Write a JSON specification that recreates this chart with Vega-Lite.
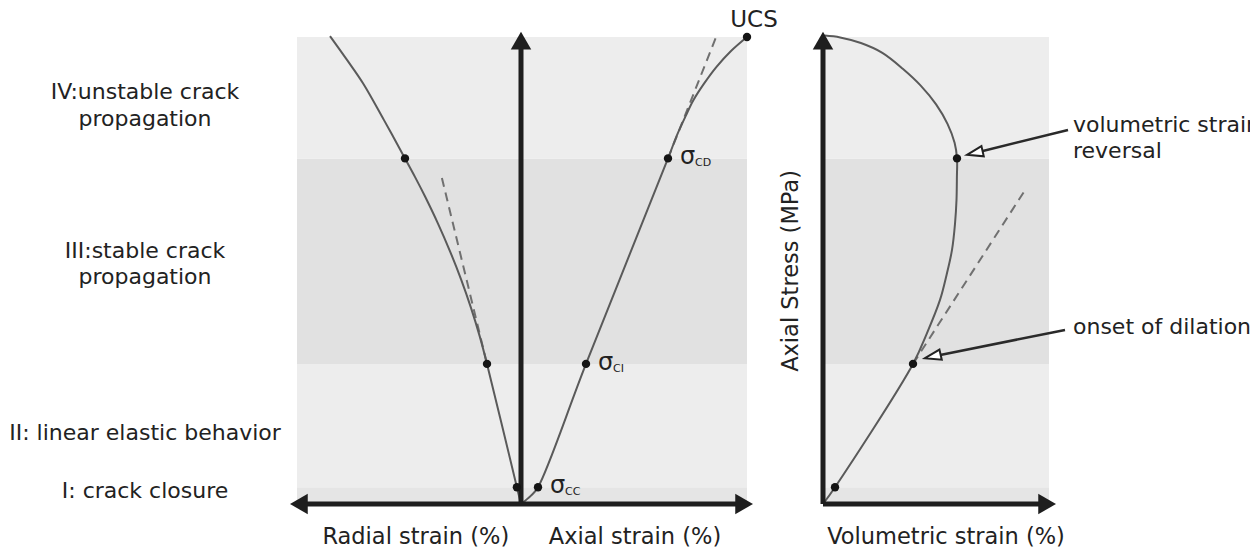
{
  "$schema": "https://vega.github.io/schema/vega-lite/v6.json",
  "padding": 0,
  "background": "white",
  "bounds": "flush",
  "spacing": 7,
  "config": {
    "view": {"stroke": null},
    "font": "DejaVu Sans",
    "text": {"font": "DejaVu Sans", "fontSize": 22, "fill": "#222222"}
  },
  "datasets": {
    "bands": [
      {"stage": "I", "stress": 0, "stress2": 3.6, "label": "I: crack closure", "labelAt": 1.28},
      {"stage": "II", "stress": 3.6, "stress2": 30, "label": "II: linear elastic behavior", "labelAt": 13.7},
      {"stage": "III", "stress": 30, "stress2": 74, "label": "III:stable crack\npropagation", "labelAt": 52.7},
      {"stage": "IV", "stress": 74, "stress2": 100, "label": "IV:unstable crack\npropagation", "labelAt": 86.7}
    ],
    "strainCurves": [
      {"curve": "radial", "i": 0, "strain": 0, "stress": 0},
      {"curve": "radial", "i": 1, "strain": -0.0082, "stress": 3.6},
      {"curve": "radial", "i": 2, "strain": -0.068, "stress": 30},
      {"curve": "radial", "i": 3, "strain": -0.0828, "stress": 36},
      {"curve": "radial", "i": 4, "strain": -0.1, "stress": 42},
      {"curve": "radial", "i": 5, "strain": -0.1195, "stress": 48},
      {"curve": "radial", "i": 6, "strain": -0.1415, "stress": 54},
      {"curve": "radial", "i": 7, "strain": -0.1658, "stress": 60},
      {"curve": "radial", "i": 8, "strain": -0.1926, "stress": 66},
      {"curve": "radial", "i": 9, "strain": -0.2118, "stress": 70},
      {"curve": "radial", "i": 10, "strain": -0.232, "stress": 74},
      {"curve": "radial", "i": 11, "strain": -0.274, "stress": 82.2},
      {"curve": "radial", "i": 12, "strain": -0.316, "stress": 90.1},
      {"curve": "radial", "i": 13, "strain": -0.348, "stress": 95.1},
      {"curve": "radial", "i": 14, "strain": -0.382, "stress": 100.2},
      {"curve": "axial", "i": 0, "strain": 0, "stress": 0},
      {"curve": "axial", "i": 1, "strain": 0.02, "stress": 1.8},
      {"curve": "axial", "i": 2, "strain": 0.034, "stress": 3.6},
      {"curve": "axial", "i": 3, "strain": 0.13, "stress": 30},
      {"curve": "axial", "i": 4, "strain": 0.294, "stress": 74},
      {"curve": "axial", "i": 5, "strain": 0.312, "stress": 79},
      {"curve": "axial", "i": 6, "strain": 0.329, "stress": 83},
      {"curve": "axial", "i": 7, "strain": 0.345, "stress": 86.5},
      {"curve": "axial", "i": 8, "strain": 0.366, "stress": 90},
      {"curve": "axial", "i": 9, "strain": 0.391, "stress": 93.6},
      {"curve": "axial", "i": 10, "strain": 0.42, "stress": 97},
      {"curve": "axial", "i": 11, "strain": 0.452, "stress": 100}
    ],
    "strainTangents": [
      {"curve": "radial", "strain": -0.068, "stress": 30},
      {"curve": "radial", "strain": -0.1582, "stress": 69.8},
      {"curve": "axial", "strain": 0.294, "stress": 74},
      {"curve": "axial", "strain": 0.391, "stress": 100.2}
    ],
    "strainArrows": [
      {"strain": 0, "stress": 0, "strain2": 0, "stress2": 99.2, "dir": "up"},
      {"strain": 0, "stress": 0, "strain2": -0.4442, "stress2": 0, "dir": "left"},
      {"strain": 0, "stress": 0, "strain2": 0.4462, "stress2": 0, "dir": "right"}
    ],
    "strainDots": [
      {"curve": "radial", "strain": -0.0082, "stress": 3.6},
      {"curve": "radial", "strain": -0.068, "stress": 30},
      {"curve": "radial", "strain": -0.232, "stress": 74},
      {"curve": "axial", "strain": 0.034, "stress": 3.6},
      {"curve": "axial", "strain": 0.13, "stress": 30},
      {"curve": "axial", "strain": 0.294, "stress": 74},
      {"curve": "axial", "strain": 0.452, "stress": 100}
    ],
    "thresholds": [
      {"sub": "CC", "strain": 0.034, "stress": 3.6},
      {"sub": "CI", "strain": 0.13, "stress": 30},
      {"sub": "CD", "strain": 0.294, "stress": 74}
    ],
    "ucs": [{"label": "UCS", "strain": 0.452, "stress": 100}],
    "strainTitles": [
      {"label": "Radial strain (%)", "strain": -0.2104, "stress": -8.6},
      {"label": "Axial strain (%)", "strain": 0.228, "stress": -8.6}
    ],
    "volCurve": [
      {"i": 0, "strain": 0, "stress": 0},
      {"i": 1, "strain": 0.024, "stress": 3.6},
      {"i": 2, "strain": 0.18, "stress": 30},
      {"i": 3, "strain": 0.208, "stress": 36.6},
      {"i": 4, "strain": 0.234, "stress": 43.7},
      {"i": 5, "strain": 0.247, "stress": 49},
      {"i": 6, "strain": 0.258, "stress": 54.4},
      {"i": 7, "strain": 0.264, "stress": 60},
      {"i": 8, "strain": 0.267, "stress": 65.1},
      {"i": 9, "strain": 0.2678, "stress": 70},
      {"i": 10, "strain": 0.268, "stress": 74},
      {"i": 11, "strain": 0.2632, "stress": 77.34},
      {"i": 12, "strain": 0.249, "stress": 81.39},
      {"i": 13, "strain": 0.2262, "stress": 85.57},
      {"i": 14, "strain": 0.1959, "stress": 89.54},
      {"i": 15, "strain": 0.1595, "stress": 93.2},
      {"i": 16, "strain": 0.1187, "stress": 96.6},
      {"i": 17, "strain": 0.0758, "stress": 98.7},
      {"i": 18, "strain": 0.0343, "stress": 99.9},
      {"i": 19, "strain": 0.003, "stress": 100.3}
    ],
    "volTangent": [
      {"strain": 0.18, "stress": 30},
      {"strain": 0.404, "stress": 67.2}
    ],
    "volArrows": [
      {"strain": 0, "stress": 0, "strain2": 0, "stress2": 99.2, "dir": "up"},
      {"strain": 0, "stress": 0, "strain2": 0.4482, "stress2": 0, "dir": "right"}
    ],
    "volDots": [
      {"strain": 0.024, "stress": 3.6},
      {"strain": 0.18, "stress": 30},
      {"strain": 0.268, "stress": 74}
    ],
    "callouts": [
      {"label": "volumetric strain\nreversal", "strain": 0.5, "stress": 79.7, "lineStrain": 0.49, "lineStress": 80.1, "headStrain": 0.3036, "headStress": 75.16},
      {"label": "onset of dilation", "strain": 0.5, "stress": 36.4, "lineStrain": 0.484, "lineStress": 37.26, "headStrain": 0.2196, "headStress": 31.6}
    ],
    "volTitles": [{"label": "Volumetric strain (%)", "strain": 0.246, "stress": -8.6}],
    "stressTitle": [{"label": "Axial Stress (MPa)", "strain": -0.05, "stress": 49.9}]
  },
  "hconcat": [
    {
      "width": 290,
      "height": 553,
      "data": {"name": "bands"},
      "mark": {"type": "text", "align": "center", "baseline": "alphabetic", "lineBreak": "\n", "lineHeight": 26.5},
      "encoding": {
        "x": {"datum": 0.5, "type": "quantitative", "scale": {"domain": [0, 1], "nice": false, "zero": false}, "axis": null},
        "y": {"field": "labelAt", "type": "quantitative", "scale": {"domain": [-10.49, 107.92], "nice": false, "zero": false}, "axis": null},
        "text": {"field": "label"}
      }
    },
    {
      "spacing": 76,
      "bounds": "flush",
      "hconcat": [
        {
          "width": 450,
          "height": 553,
          "layer": [
            {
              "data": {"name": "bands"},
              "mark": {"type": "rect"},
              "encoding": {
                "x": {"datum": -0.448, "type": "quantitative", "scale": {"domain": [-0.448, 0.452], "nice": false, "zero": false}, "axis": null},
                "x2": {"datum": 0.452},
                "y": {"field": "stress", "type": "quantitative", "scale": {"domain": [-10.49, 107.92], "nice": false, "zero": false}, "axis": null},
                "y2": {"field": "stress2"},
                "color": {"field": "stage", "type": "nominal", "scale": {"domain": ["I", "II", "III", "IV"], "range": ["#e5e5e5", "#ededed", "#e1e1e1", "#ededed"]}, "legend": null}
              }
            },
            {
              "data": {"name": "strainTangents"},
              "mark": {"type": "line", "stroke": "#707070", "strokeWidth": 2, "strokeDash": [9, 6]},
              "encoding": {
                "x": {"field": "strain", "type": "quantitative"},
                "y": {"field": "stress", "type": "quantitative"},
                "detail": {"field": "curve"}
              }
            },
            {
              "data": {"name": "strainCurves"},
              "mark": {"type": "line", "interpolate": "catmull-rom", "stroke": "#5a5a5a", "strokeWidth": 2},
              "encoding": {
                "x": {"field": "strain", "type": "quantitative"},
                "y": {"field": "stress", "type": "quantitative"},
                "detail": {"field": "curve"},
                "order": {"field": "i", "type": "quantitative"}
              }
            },
            {
              "data": {"name": "strainArrows"},
              "mark": {"type": "rule", "stroke": "#1e1e1e", "strokeWidth": 5, "strokeCap": "butt"},
              "encoding": {
                "x": {"field": "strain", "type": "quantitative"},
                "y": {"field": "stress", "type": "quantitative"},
                "x2": {"field": "strain2"},
                "y2": {"field": "stress2"}
              }
            },
            {
              "data": {"name": "strainArrows"},
              "mark": {"type": "point", "filled": true, "size": 420, "color": "#1e1e1e", "opacity": 1},
              "encoding": {
                "x": {"field": "strain2", "type": "quantitative"},
                "y": {"field": "stress2", "type": "quantitative"},
                "shape": {"field": "dir", "type": "nominal", "scale": {"domain": ["up", "left", "right"], "range": ["triangle-up", "triangle-left", "triangle-right"]}, "legend": null}
              }
            },
            {
              "data": {"name": "strainDots"},
              "mark": {"type": "point", "filled": true, "size": 70, "color": "#151515", "opacity": 1},
              "encoding": {
                "x": {"field": "strain", "type": "quantitative"},
                "y": {"field": "stress", "type": "quantitative"}
              }
            },
            {
              "data": {"name": "thresholds"},
              "mark": {"type": "text", "text": "σ", "fontSize": 24, "align": "left", "baseline": "alphabetic", "dx": 12, "dy": 6},
              "encoding": {
                "x": {"field": "strain", "type": "quantitative"},
                "y": {"field": "stress", "type": "quantitative"}
              }
            },
            {
              "data": {"name": "thresholds"},
              "mark": {"type": "text", "fontSize": 11, "align": "left", "baseline": "alphabetic", "dx": 27, "dy": 8},
              "encoding": {
                "x": {"field": "strain", "type": "quantitative"},
                "y": {"field": "stress", "type": "quantitative"},
                "text": {"field": "sub"}
              }
            },
            {
              "data": {"name": "ucs"},
              "mark": {"type": "text", "fontSize": 23, "align": "center", "baseline": "alphabetic", "dx": 7, "dy": -10},
              "encoding": {
                "x": {"field": "strain", "type": "quantitative"},
                "y": {"field": "stress", "type": "quantitative"},
                "text": {"field": "label"}
              }
            },
            {
              "data": {"name": "strainTitles"},
              "mark": {"type": "text", "fontSize": 22.5, "align": "center", "baseline": "alphabetic"},
              "encoding": {
                "x": {"field": "strain", "type": "quantitative"},
                "y": {"field": "stress", "type": "quantitative"},
                "text": {"field": "label"}
              }
            }
          ]
        },
        {
          "width": 226,
          "height": 553,
          "layer": [
            {
              "data": {"name": "bands"},
              "mark": {"type": "rect"},
              "encoding": {
                "x": {"datum": 0, "type": "quantitative", "scale": {"domain": [0, 0.452], "nice": false, "zero": false}, "axis": null},
                "x2": {"datum": 0.452},
                "y": {"field": "stress", "type": "quantitative", "scale": {"domain": [-10.49, 107.92], "nice": false, "zero": false}, "axis": null},
                "y2": {"field": "stress2"},
                "color": {"field": "stage", "type": "nominal", "scale": {"domain": ["I", "II", "III", "IV"], "range": ["#e5e5e5", "#ededed", "#e1e1e1", "#ededed"]}, "legend": null}
              }
            },
            {
              "data": {"name": "volTangent"},
              "mark": {"type": "line", "stroke": "#707070", "strokeWidth": 2, "strokeDash": [9, 6]},
              "encoding": {
                "x": {"field": "strain", "type": "quantitative"},
                "y": {"field": "stress", "type": "quantitative"}
              }
            },
            {
              "data": {"name": "volCurve"},
              "mark": {"type": "line", "interpolate": "catmull-rom", "stroke": "#5a5a5a", "strokeWidth": 2},
              "encoding": {
                "x": {"field": "strain", "type": "quantitative"},
                "y": {"field": "stress", "type": "quantitative"},
                "order": {"field": "i", "type": "quantitative"}
              }
            },
            {
              "data": {"name": "volArrows"},
              "mark": {"type": "rule", "stroke": "#1e1e1e", "strokeWidth": 5, "strokeCap": "butt"},
              "encoding": {
                "x": {"field": "strain", "type": "quantitative"},
                "y": {"field": "stress", "type": "quantitative"},
                "x2": {"field": "strain2"},
                "y2": {"field": "stress2"}
              }
            },
            {
              "data": {"name": "volArrows"},
              "mark": {"type": "point", "filled": true, "size": 420, "color": "#1e1e1e", "opacity": 1},
              "encoding": {
                "x": {"field": "strain2", "type": "quantitative"},
                "y": {"field": "stress2", "type": "quantitative"},
                "shape": {"field": "dir", "type": "nominal", "scale": {"domain": ["up", "left", "right"], "range": ["triangle-up", "triangle-left", "triangle-right"]}, "legend": null}
              }
            },
            {
              "data": {"name": "volDots"},
              "mark": {"type": "point", "filled": true, "size": 70, "color": "#151515", "opacity": 1},
              "encoding": {
                "x": {"field": "strain", "type": "quantitative"},
                "y": {"field": "stress", "type": "quantitative"}
              }
            },
            {
              "data": {"name": "callouts"},
              "mark": {"type": "rule", "stroke": "#2a2a2a", "strokeWidth": 2.5},
              "encoding": {
                "x": {"field": "lineStrain", "type": "quantitative"},
                "y": {"field": "lineStress", "type": "quantitative"},
                "x2": {"field": "headStrain"},
                "y2": {"field": "headStress"}
              }
            },
            {
              "data": {"name": "callouts"},
              "mark": {"type": "point", "shape": "M-1,0L1,-0.65L1,0.65Z", "filled": true, "fill": "white", "stroke": "#222222", "strokeWidth": 2, "size": 256, "angle": -13, "opacity": 1},
              "encoding": {
                "x": {"field": "headStrain", "type": "quantitative"},
                "y": {"field": "headStress", "type": "quantitative"}
              }
            },
            {
              "data": {"name": "callouts"},
              "mark": {"type": "text", "align": "left", "baseline": "alphabetic", "lineBreak": "\n", "lineHeight": 26.5},
              "encoding": {
                "x": {"field": "strain", "type": "quantitative"},
                "y": {"field": "stress", "type": "quantitative"},
                "text": {"field": "label"}
              }
            },
            {
              "data": {"name": "volTitles"},
              "mark": {"type": "text", "fontSize": 22.5, "align": "center", "baseline": "alphabetic"},
              "encoding": {
                "x": {"field": "strain", "type": "quantitative"},
                "y": {"field": "stress", "type": "quantitative"},
                "text": {"field": "label"}
              }
            },
            {
              "data": {"name": "stressTitle"},
              "mark": {"type": "text", "fontSize": 22.5, "align": "center", "baseline": "alphabetic", "angle": 270},
              "encoding": {
                "x": {"field": "strain", "type": "quantitative"},
                "y": {"field": "stress", "type": "quantitative"},
                "text": {"field": "label"}
              }
            }
          ]
        }
      ]
    }
  ]
}
